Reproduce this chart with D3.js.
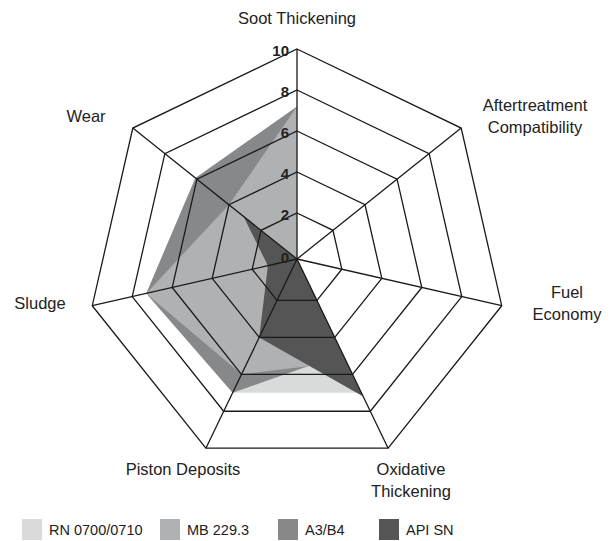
<!DOCTYPE html>
<html>
<head>
<meta charset="utf-8">
<script src="https://cdn.jsdelivr.net/npm/d3@7"></script>
<style>
  body { margin: 0; background: #fff; }
  svg { display: block; font-family: "Liberation Sans", Arial, Helvetica, sans-serif; }
</style>
</head>
<body>
<script>
const width = 611;
const height = 541;

// axes, clockwise from the top
const axes = ["Soot Thickening", "Aftertreatment Compatibility", "Fuel Economy",
    "Oxidative Thickening", "Piston Deposits", "Sludge", "Wear"];
const seriesNames = ["RN 0700/0710", "MB 229.3", "A3/B4", "API SN"];

// values per axis, same order as axes
const rn = [6.0, 0, 0, 7.0, 7.0, 6.5, 4.5];
const mb = [7.2, 0, 0, 5.3, 6.0, 7.3, 4.0];
const a3b4 = [7.2, 0, 0, 4.9, 7.0, 7.3, 6.1];
const apiSn = [0, 4.0, 0, 7.2, 4.0, 1.3, 3.1];

const ticks = [0, 2, 4, 6, 8, 10];

const colors = ["#d9dada", "#b0b1b3", "#878889", "#555555"];
const seriesValues = [rn, mb, a3b4, apiSn];
// painting order (back to front)
const drawOrder = [0, 2, 1, 3];

const cx = 297, cy = 259;

const svg = d3.select("body").append("svg")
    .attr("width", width)
    .attr("height", height);

const r = d3.scaleLinear().domain([0, 2, 10]).range([0, 46, 210]);
const angle = d3.scaleLinear().domain([0, axes.length]).range([-Math.PI / 2, 1.5 * Math.PI]);

const pt = (i, v) => [cx + r(v) * Math.cos(angle(i)), cy + r(v) * Math.sin(angle(i))];

const line = d3.line();

// series polygons
const g = svg.append("g");
drawOrder.forEach(s => {
    const pts = seriesValues[s].map((v, i) => pt(i, v));
    g.append("path")
        .attr("d", line(pts) + "Z")
        .attr("fill", colors[s]);
});

// grid rings
const grid = svg.append("g").attr("fill", "none").attr("stroke", "#1a1a1a").attr("stroke-width", 1.3);
ticks.filter(t => t > 0).forEach(t => {
    grid.append("path").attr("d", line(axes.map((a, i) => pt(i, t))) + "Z");
});
axes.forEach((a, i) => {
    const [x, y] = pt(i, 10);
    grid.append("line").attr("x1", cx).attr("y1", cy).attr("x2", x).attr("y2", y);
});

// tick labels on the top axis
svg.append("g").selectAll("text")
    .data(ticks)
    .join("text")
    .attr("x", cx - 8)
    .attr("y", d => cy - r(d) + (d === 0 ? 4 : 7))
    .attr("text-anchor", "end")
    .style("font-size", "15px")
    .style("font-weight", "bold")
    .style("fill", "#222")
    .text(d => d);

// axis labels
const labelPos = [
    { x: 297, y: 24, anchor: "middle" },
    { x: 535, y: 111, anchor: "middle", lines: ["Aftertreatment", "Compatibility"] },
    { x: 567, y: 298, anchor: "middle", lines: ["Fuel", "Economy"] },
    { x: 411, y: 475, anchor: "middle", lines: ["Oxidative", "Thickening"] },
    { x: 183, y: 475, anchor: "middle" },
    { x: 40, y: 309, anchor: "middle" },
    { x: 86, y: 122, anchor: "middle" }
];
axes.forEach((a, i) => {
    const p = labelPos[i];
    const t = svg.append("text")
        .attr("x", p.x)
        .attr("y", p.y)
        .attr("text-anchor", p.anchor)
        .style("font-size", "16.5px")
        .style("fill", "#222");
    (p.lines || [a]).forEach((s, k) => {
        t.append("tspan").attr("x", p.x).attr("dy", k === 0 ? 0 : 22).text(s);
    });
});

// legend
const legendX = [22, 160, 278, 379];
const legend = svg.append("g");
seriesNames.forEach((name, i) => {
    legend.append("rect")
        .attr("x", legendX[i]).attr("y", 519)
        .attr("width", 20).attr("height", 21)
        .attr("fill", colors[i]);
    legend.append("text")
        .attr("x", legendX[i] + 27).attr("y", 535)
        .style("font-size", "14.5px")
        .style("fill", "#222")
        .text(name);
});
</script>
</body>
</html>
